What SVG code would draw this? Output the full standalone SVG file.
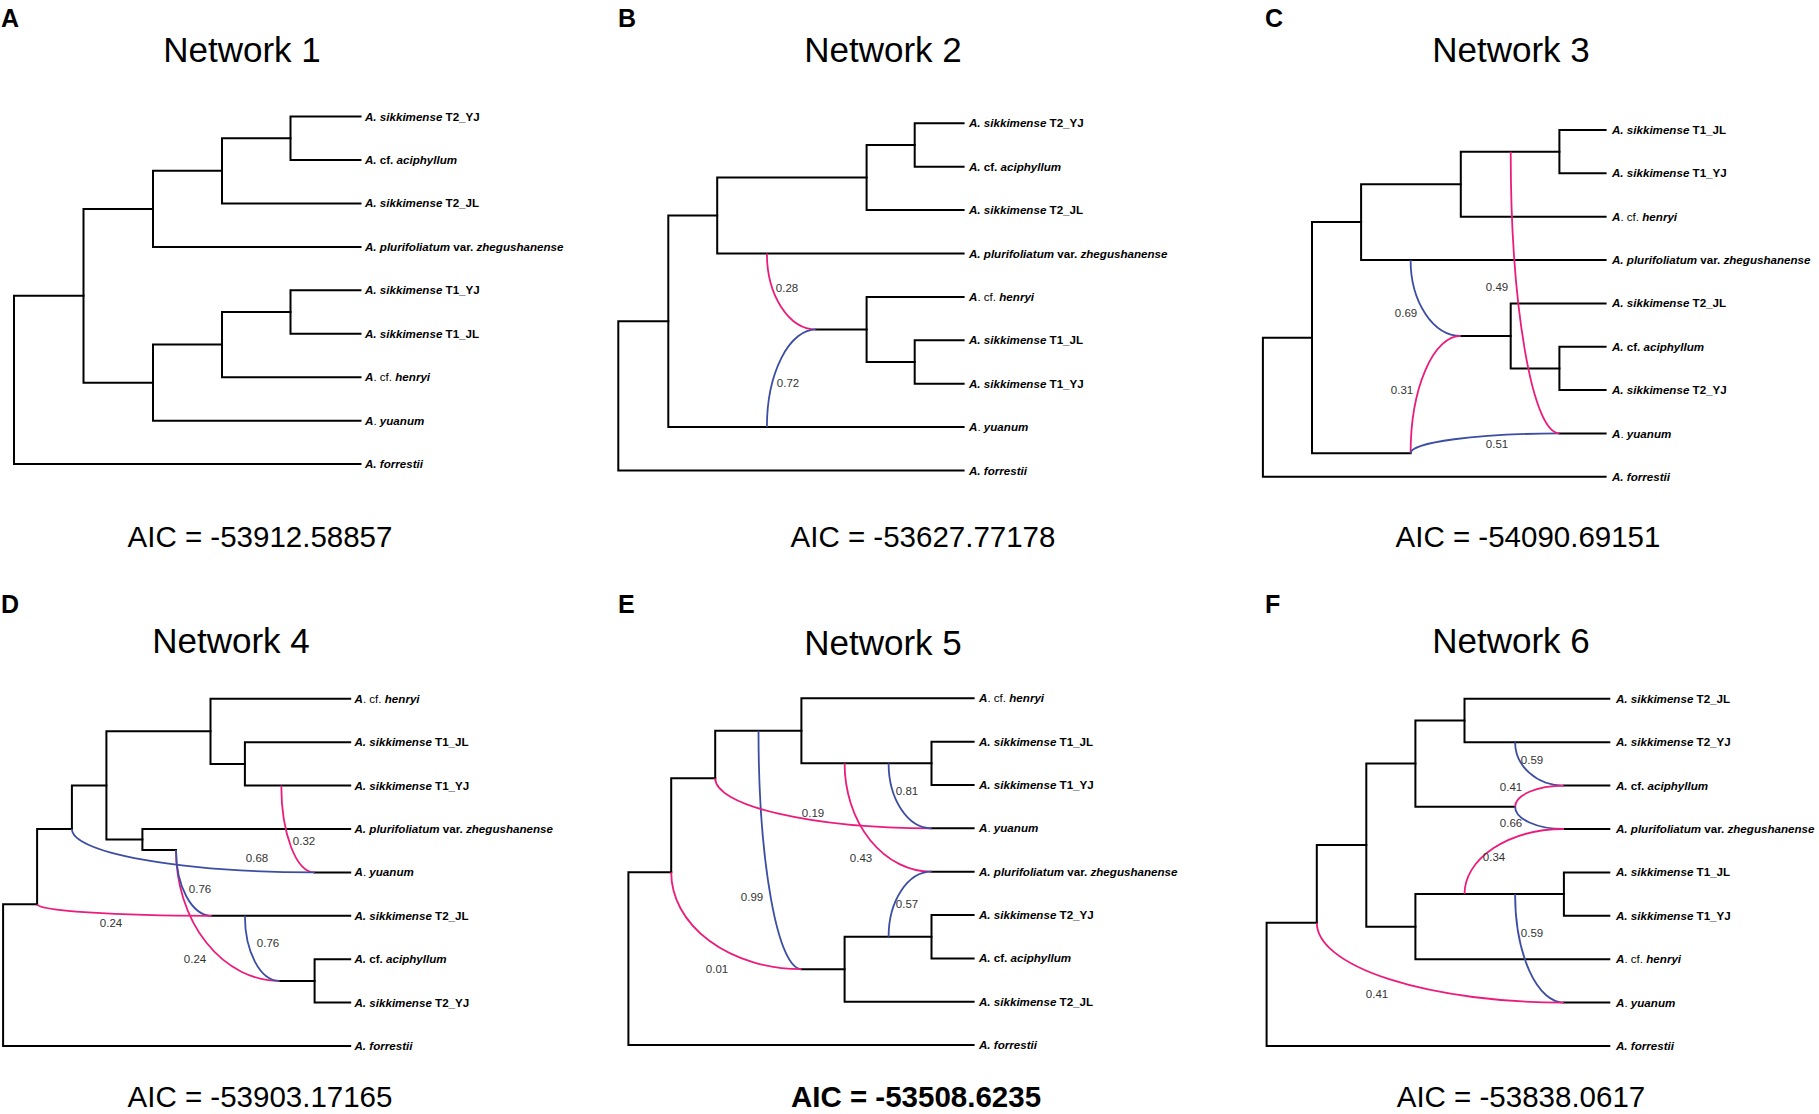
<svg xmlns="http://www.w3.org/2000/svg" width="1819" height="1114" viewBox="0 0 1819 1114">
<style>
.bg{fill:#fff}
.t{fill:none;stroke:#000;stroke-width:2;stroke-linecap:square;stroke-linejoin:miter}
.p{fill:none;stroke:#ec1c7a;stroke-width:1.8}
.b{fill:none;stroke:#3c4ea3;stroke-width:1.8}
.tip{font-family:"Liberation Sans",Arial,sans-serif;font-size:11.6px;font-weight:bold;fill:#000}
.i{font-style:italic}
.n{font-weight:normal}
.num{font-family:"Liberation Sans",Arial,sans-serif;font-size:11.5px;fill:#333;text-anchor:middle}
.ttl{font-family:"Liberation Sans",Arial,sans-serif;font-size:35px;fill:#000;text-anchor:middle}
.aic{font-family:"Liberation Sans",Arial,sans-serif;font-size:29.5px;fill:#000;text-anchor:middle}
.lbl{font-family:"Liberation Sans",Arial,sans-serif;font-size:25px;font-weight:bold;fill:#000}
</style>
<rect class="bg" x="0" y="0" width="1819" height="1114"/>

<!-- Panel labels, titles, AIC -->
<g id="headers">
<text class="lbl" x="1" y="27">A</text>
<text class="lbl" x="618" y="27">B</text>
<text class="lbl" x="1265" y="27">C</text>
<text class="lbl" x="1" y="613">D</text>
<text class="lbl" x="618" y="613">E</text>
<text class="lbl" x="1265" y="613">F</text>
<text class="ttl" x="242" y="62">Network 1</text>
<text class="ttl" x="883" y="62">Network 2</text>
<text class="ttl" x="1511" y="62">Network 3</text>
<text class="ttl" x="231" y="653">Network 4</text>
<text class="ttl" x="883" y="655">Network 5</text>
<text class="ttl" x="1511" y="653">Network 6</text>
<text class="aic" x="260" y="547">AIC = -53912.58857</text>
<text class="aic" x="923" y="547">AIC = -53627.77178</text>
<text class="aic" x="1528" y="547">AIC = -54090.69151</text>
<text class="aic" x="260" y="1107">AIC = -53903.17165</text>
<text class="aic" x="916" y="1107" font-weight="bold">AIC = -53508.6235</text>
<text class="aic" x="1521" y="1107">AIC = -53838.0617</text>
</g>

<!-- Connectors -->
<g id="connectors">
<!-- A -->
<path class="t" d="M360.5 116.5H290.5V160H360.5"/>
<path class="t" d="M290.5 138.25H222V203.4H360.5"/>
<path class="t" d="M222 170.8H153V246.9H360.5"/>
<path class="t" d="M360.5 290.3H290.5V333.8H360.5"/>
<path class="t" d="M290.5 312.05H222V377.2H360.5"/>
<path class="t" d="M222 344.6H153V420.7H360.5"/>
<path class="t" d="M153 208.9H83.5V382.7H153"/>
<path class="t" d="M83.5 295.8H14V464.1H360.5"/>
<!-- B -->
<path class="t" d="M963.6 123.3H914.7V166.7H963.6"/>
<path class="t" d="M914.7 145H866.6V210.1H963.6"/>
<path class="t" d="M866.6 177.55H717.2V253.5H963.6"/>
<path class="t" d="M963.6 340.3H914.7V383.7H963.6"/>
<path class="t" d="M963.6 296.9H866.6V362H914.7"/>
<path class="t" d="M816.2 329.45H866.6"/>
<path class="t" d="M717.2 215.5H668.3V427.1H963.6"/>
<path class="t" d="M668.3 321.3H618.3V470.5H963.6"/>
<path class="p" d="M766.9 253.5A49.3 75.95 0 0 0 816.2 329.45"/>
<path class="b" d="M766.9 427.1A49.3 97.65 0 0 1 816.2 329.45"/>
<!-- C -->
<path class="t" d="M1605.6 130H1559.4V173.35H1605.6"/>
<path class="t" d="M1559.4 151.7H1460.8V216.7H1605.6"/>
<path class="t" d="M1460.8 184.2H1361.1V260.05H1605.6"/>
<path class="t" d="M1605.6 346.75H1559.4V390.1H1605.6"/>
<path class="t" d="M1605.6 303.4H1510.7V368.4H1559.4"/>
<path class="t" d="M1460.8 335.9H1510.7"/>
<path class="t" d="M1361.1 222.1H1312V453.3H1410.6"/>
<path class="t" d="M1312 337.7H1262.9V476.8H1605.6"/>
<path class="t" d="M1559.4 433.45H1605.6"/>
<path class="b" d="M1410.6 260.05A50.2 75.85 0 0 0 1460.8 335.9"/>
<path class="p" d="M1410.6 453.3A50.2 117.4 0 0 1 1460.8 335.9"/>
<path class="b" d="M1410.6 453.3A148.8 19.85 0 0 1 1559.4 433.45"/>
<path class="p" d="M1510.7 151.7A48.7 281.75 0 0 0 1559.4 433.45"/>
<!-- D -->
<path class="t" d="M350.2 742.2H244.9V785.6H350.2"/>
<path class="t" d="M350.2 698.8H210.5V763.9H244.9"/>
<path class="t" d="M350.2 829H142.4V850H176"/>
<path class="t" d="M210.5 731.35H106.4V839.5H142.4"/>
<path class="t" d="M106.4 785.4H71.9V829"/>
<path class="t" d="M71.9 829H37.1V904.3"/>
<path class="t" d="M37.1 904.3H3.1V1046H350.2"/>
<path class="t" d="M211.6 915.8H350.2"/>
<path class="t" d="M350.2 959.2H314.6V1002.6H350.2"/>
<path class="t" d="M279.4 980.9H314.6"/>
<path class="t" d="M314.6 872.4H350.2"/>
<path class="p" d="M281.3 785.6A33.3 86.8 0 0 0 314.6 872.4"/>
<path class="b" d="M71.9 829A242.7 43.4 0 0 0 314.6 872.4"/>
<path class="p" d="M176 850A103.4 130.9 0 0 0 279.4 980.9"/>
<path class="b" d="M176 850A35.6 65.8 0 0 0 211.6 915.8"/>
<path class="p" d="M37.1 904.3A174.5 11.5 0 0 0 211.6 915.8"/>
<path class="b" d="M244.9 915.8A34.5 65.1 0 0 0 279.4 980.9"/>
<!-- E -->
<path class="t" d="M973.6 741.65H931.5V785H973.6"/>
<path class="t" d="M973.6 698.3H801.4V763.3H931.5"/>
<path class="t" d="M801.4 730.8H715.2V778.3"/>
<path class="t" d="M715.2 778.3H671.2V872.3"/>
<path class="t" d="M671.2 872.3H628.4V1045.1H973.6"/>
<path class="t" d="M973.6 915.05H931.5V958.4H973.6"/>
<path class="t" d="M931.5 936.7H844.6V1001.75H973.6"/>
<path class="t" d="M801.4 969.2H844.6"/>
<path class="t" d="M931.5 828.35H973.6"/>
<path class="t" d="M931.5 871.7H973.6"/>
<path class="b" d="M758.5 730.8A42.9 238.4 0 0 0 801.4 969.2"/>
<path class="p" d="M671.2 872.3A130.2 96.9 0 0 0 801.4 969.2"/>
<path class="p" d="M715.2 778.3A216.3 50.05 0 0 0 931.5 828.35"/>
<path class="p" d="M844.6 763.3A86.9 108.4 0 0 0 931.5 871.7"/>
<path class="b" d="M888.6 763.3A42.9 65.05 0 0 0 931.5 828.35"/>
<path class="b" d="M888.6 936.7A42.9 65 0 0 1 931.5 871.7"/>
<!-- F -->
<path class="t" d="M1609.3 698.8H1464.5V742.2H1609.3"/>
<path class="t" d="M1464.5 720.5H1415.4V806.7H1515.1"/>
<path class="t" d="M1563.9 785.6H1609.3"/>
<path class="t" d="M1563.9 829H1609.3"/>
<path class="t" d="M1609.3 872.4H1563.9V915.8H1609.3"/>
<path class="t" d="M1563.9 894.1H1415.4V959.2H1609.3"/>
<path class="t" d="M1415.4 763.6H1366.3V926.65H1415.4"/>
<path class="t" d="M1366.3 845.1H1316.8V922.7"/>
<path class="t" d="M1316.8 922.7H1266.6V1046H1609.3"/>
<path class="t" d="M1563.9 1002.6H1609.3"/>
<path class="b" d="M1515.1 742.2A48.8 43.4 0 0 0 1563.9 785.6"/>
<path class="p" d="M1515.1 806.7A48.8 21.1 0 0 1 1563.9 785.6"/>
<path class="b" d="M1515.1 806.7A48.8 22.3 0 0 0 1563.9 829"/>
<path class="p" d="M1464.5 894.1A99.4 65.1 0 0 1 1563.9 829"/>
<path class="b" d="M1515.1 894.1A48.8 108.5 0 0 0 1563.9 1002.6"/>
<path class="p" d="M1316.8 922.7A247.1 79.9 0 0 0 1563.9 1002.6"/>
</g>

<!-- Inheritance values -->
<g id="values">
<text class="num" x="787" y="292.4">0.28</text>
<text class="num" x="788" y="386.8">0.72</text>
<text class="num" x="1497" y="290.8">0.49</text>
<text class="num" x="1406" y="316.8">0.69</text>
<text class="num" x="1402" y="394.1">0.31</text>
<text class="num" x="1497" y="448.4">0.51</text>
<text class="num" x="304" y="844.8">0.32</text>
<text class="num" x="257" y="862.4">0.68</text>
<text class="num" x="200" y="893.1">0.76</text>
<text class="num" x="111" y="927.4">0.24</text>
<text class="num" x="268" y="947.4">0.76</text>
<text class="num" x="195" y="963.4">0.24</text>
<text class="num" x="907" y="795.1">0.81</text>
<text class="num" x="813" y="817.4">0.19</text>
<text class="num" x="861" y="862.4">0.43</text>
<text class="num" x="907" y="908.4">0.57</text>
<text class="num" x="752" y="900.8">0.99</text>
<text class="num" x="717" y="972.8">0.01</text>
<text class="num" x="1532" y="764.1">0.59</text>
<text class="num" x="1511" y="790.8">0.41</text>
<text class="num" x="1511" y="827.4">0.66</text>
<text class="num" x="1494" y="861.4">0.34</text>
<text class="num" x="1532" y="936.8">0.59</text>
<text class="num" x="1377" y="998.1">0.41</text>
</g>

<!-- Tips: Panel A -->
<g id="A-T2_YJ"><text class="tip" x="365" y="120.5"><tspan class="i">A. sikkimense</tspan> T2_YJ</text></g>
<g id="A-aciphyllum"><text class="tip" x="365" y="164"><tspan class="i">A.</tspan> cf. <tspan class="i">aciphyllum</tspan></text></g>
<g id="A-T2_JL"><text class="tip" x="365" y="207.4"><tspan class="i">A. sikkimense</tspan> T2_JL</text></g>
<g id="A-plurifoliatum"><text class="tip" x="365" y="250.9"><tspan class="i">A. plurifoliatum</tspan> var. <tspan class="i">zhegushanense</tspan></text></g>
<g id="A-T1_YJ"><text class="tip" x="365" y="294.3"><tspan class="i">A. sikkimense</tspan> T1_YJ</text></g>
<g id="A-T1_JL"><text class="tip" x="365" y="337.8"><tspan class="i">A. sikkimense</tspan> T1_JL</text></g>
<g id="A-henryi"><text class="tip" x="365" y="381.2"><tspan class="i">A</tspan><tspan class="n">. cf. </tspan><tspan class="i">henryi</tspan></text></g>
<g id="A-yuanum"><text class="tip" x="365" y="424.7"><tspan class="i">A</tspan><tspan class="n">. </tspan><tspan class="i">yuanum</tspan></text></g>
<g id="A-forrestii"><text class="tip" x="365" y="468.1"><tspan class="i">A. forrestii</tspan></text></g>

<!-- Tips: Panel B -->
<g id="B-T2_YJ"><text class="tip" x="969" y="127.3"><tspan class="i">A. sikkimense</tspan> T2_YJ</text></g>
<g id="B-aciphyllum"><text class="tip" x="969" y="170.7"><tspan class="i">A.</tspan> cf. <tspan class="i">aciphyllum</tspan></text></g>
<g id="B-T2_JL"><text class="tip" x="969" y="214.1"><tspan class="i">A. sikkimense</tspan> T2_JL</text></g>
<g id="B-plurifoliatum"><text class="tip" x="969" y="257.5"><tspan class="i">A. plurifoliatum</tspan> var. <tspan class="i">zhegushanense</tspan></text></g>
<g id="B-henryi"><text class="tip" x="969" y="300.9"><tspan class="i">A</tspan><tspan class="n">. cf. </tspan><tspan class="i">henryi</tspan></text></g>
<g id="B-T1_JL"><text class="tip" x="969" y="344.3"><tspan class="i">A. sikkimense</tspan> T1_JL</text></g>
<g id="B-T1_YJ"><text class="tip" x="969" y="387.7"><tspan class="i">A. sikkimense</tspan> T1_YJ</text></g>
<g id="B-yuanum"><text class="tip" x="969" y="431.1"><tspan class="i">A</tspan><tspan class="n">. </tspan><tspan class="i">yuanum</tspan></text></g>
<g id="B-forrestii"><text class="tip" x="969" y="474.5"><tspan class="i">A. forrestii</tspan></text></g>

<!-- Tips: Panel C -->
<g id="C-T1_JL"><text class="tip" x="1612" y="134"><tspan class="i">A. sikkimense</tspan> T1_JL</text></g>
<g id="C-T1_YJ"><text class="tip" x="1612" y="177.4"><tspan class="i">A. sikkimense</tspan> T1_YJ</text></g>
<g id="C-henryi"><text class="tip" x="1612" y="220.7"><tspan class="i">A</tspan><tspan class="n">. cf. </tspan><tspan class="i">henryi</tspan></text></g>
<g id="C-plurifoliatum"><text class="tip" x="1612" y="264.1"><tspan class="i">A. plurifoliatum</tspan> var. <tspan class="i">zhegushanense</tspan></text></g>
<g id="C-T2_JL"><text class="tip" x="1612" y="307.4"><tspan class="i">A. sikkimense</tspan> T2_JL</text></g>
<g id="C-aciphyllum"><text class="tip" x="1612" y="350.8"><tspan class="i">A.</tspan> cf. <tspan class="i">aciphyllum</tspan></text></g>
<g id="C-T2_YJ"><text class="tip" x="1612" y="394.1"><tspan class="i">A. sikkimense</tspan> T2_YJ</text></g>
<g id="C-yuanum"><text class="tip" x="1612" y="437.5"><tspan class="i">A</tspan><tspan class="n">. </tspan><tspan class="i">yuanum</tspan></text></g>
<g id="C-forrestii"><text class="tip" x="1612" y="480.8"><tspan class="i">A. forrestii</tspan></text></g>

<!-- Tips: Panel D -->
<g id="D-henryi"><text class="tip" x="354.5" y="702.8"><tspan class="i">A</tspan><tspan class="n">. cf. </tspan><tspan class="i">henryi</tspan></text></g>
<g id="D-T1_JL"><text class="tip" x="354.5" y="746.2"><tspan class="i">A. sikkimense</tspan> T1_JL</text></g>
<g id="D-T1_YJ"><text class="tip" x="354.5" y="789.6"><tspan class="i">A. sikkimense</tspan> T1_YJ</text></g>
<g id="D-plurifoliatum"><text class="tip" x="354.5" y="833"><tspan class="i">A. plurifoliatum</tspan> var. <tspan class="i">zhegushanense</tspan></text></g>
<g id="D-yuanum"><text class="tip" x="354.5" y="876.4"><tspan class="i">A</tspan><tspan class="n">. </tspan><tspan class="i">yuanum</tspan></text></g>
<g id="D-T2_JL"><text class="tip" x="354.5" y="919.8"><tspan class="i">A. sikkimense</tspan> T2_JL</text></g>
<g id="D-aciphyllum"><text class="tip" x="354.5" y="963.2"><tspan class="i">A.</tspan> cf. <tspan class="i">aciphyllum</tspan></text></g>
<g id="D-T2_YJ"><text class="tip" x="354.5" y="1006.6"><tspan class="i">A. sikkimense</tspan> T2_YJ</text></g>
<g id="D-forrestii"><text class="tip" x="354.5" y="1050"><tspan class="i">A. forrestii</tspan></text></g>

<!-- Tips: Panel E -->
<g id="E-henryi"><text class="tip" x="979" y="702.3"><tspan class="i">A</tspan><tspan class="n">. cf. </tspan><tspan class="i">henryi</tspan></text></g>
<g id="E-T1_JL"><text class="tip" x="979" y="745.7"><tspan class="i">A. sikkimense</tspan> T1_JL</text></g>
<g id="E-T1_YJ"><text class="tip" x="979" y="789"><tspan class="i">A. sikkimense</tspan> T1_YJ</text></g>
<g id="E-yuanum"><text class="tip" x="979" y="832.4"><tspan class="i">A</tspan><tspan class="n">. </tspan><tspan class="i">yuanum</tspan></text></g>
<g id="E-plurifoliatum"><text class="tip" x="979" y="875.7"><tspan class="i">A. plurifoliatum</tspan> var. <tspan class="i">zhegushanense</tspan></text></g>
<g id="E-T2_YJ"><text class="tip" x="979" y="919.1"><tspan class="i">A. sikkimense</tspan> T2_YJ</text></g>
<g id="E-aciphyllum"><text class="tip" x="979" y="962.4"><tspan class="i">A.</tspan> cf. <tspan class="i">aciphyllum</tspan></text></g>
<g id="E-T2_JL"><text class="tip" x="979" y="1005.8"><tspan class="i">A. sikkimense</tspan> T2_JL</text></g>
<g id="E-forrestii"><text class="tip" x="979" y="1049.1"><tspan class="i">A. forrestii</tspan></text></g>

<!-- Tips: Panel F -->
<g id="F-T2_JL"><text class="tip" x="1616" y="702.8"><tspan class="i">A. sikkimense</tspan> T2_JL</text></g>
<g id="F-T2_YJ"><text class="tip" x="1616" y="746.2"><tspan class="i">A. sikkimense</tspan> T2_YJ</text></g>
<g id="F-aciphyllum"><text class="tip" x="1616" y="789.6"><tspan class="i">A.</tspan> cf. <tspan class="i">aciphyllum</tspan></text></g>
<g id="F-plurifoliatum"><text class="tip" x="1616" y="833"><tspan class="i">A. plurifoliatum</tspan> var. <tspan class="i">zhegushanense</tspan></text></g>
<g id="F-T1_JL"><text class="tip" x="1616" y="876.4"><tspan class="i">A. sikkimense</tspan> T1_JL</text></g>
<g id="F-T1_YJ"><text class="tip" x="1616" y="919.8"><tspan class="i">A. sikkimense</tspan> T1_YJ</text></g>
<g id="F-henryi"><text class="tip" x="1616" y="963.2"><tspan class="i">A</tspan><tspan class="n">. cf. </tspan><tspan class="i">henryi</tspan></text></g>
<g id="F-yuanum"><text class="tip" x="1616" y="1006.6"><tspan class="i">A</tspan><tspan class="n">. </tspan><tspan class="i">yuanum</tspan></text></g>
<g id="F-forrestii"><text class="tip" x="1616" y="1050"><tspan class="i">A. forrestii</tspan></text></g>
</svg>
